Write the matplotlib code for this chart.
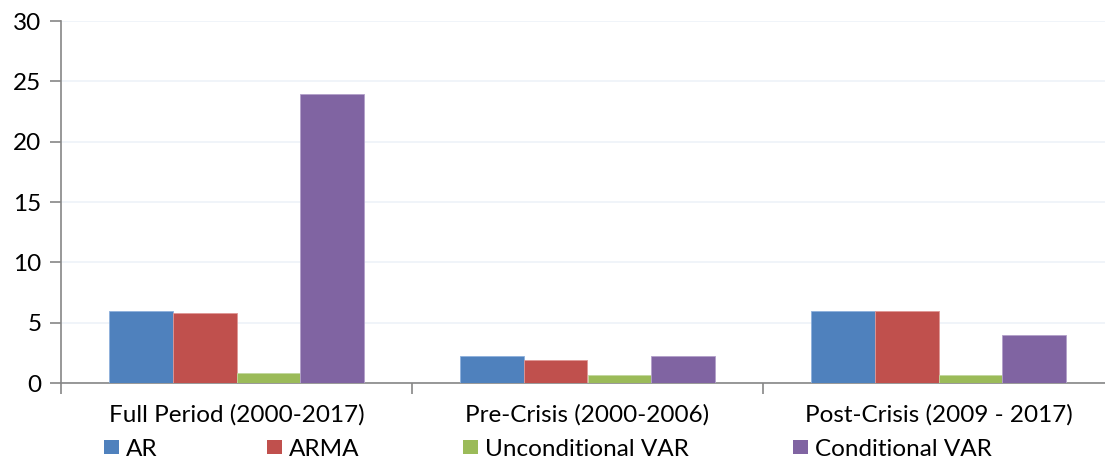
import matplotlib
matplotlib.use("Agg")
import matplotlib.pyplot as plt
from matplotlib.patches import Patch
import numpy as np

categories = ["Full Period (2000-2017)", "Pre-Crisis (2000-2006)", "Post-Crisis (2009 - 2017)"]
series_names = ["AR", "ARMA", "Unconditional VAR", "Conditional VAR"]
ar = [5.97, 2.24, 5.94]
arma = [5.80, 1.88, 5.94]
uncond_var = [0.83, 0.66, 0.64]
cond_var = [23.95, 2.20, 3.95]
colors = ["#4F81BD", "#C0504D", "#9BBB59", "#8064A2"]
edge_colors = ["#8DB0DC", "#E09795", "#C2D89E", "#B2A0CA"]
yticks = [0, 5, 10, 15, 20, 25, 30]

plt.rcParams['font.family'] = ['Lato', 'DejaVu Sans']

fig = plt.figure(figsize=(11.05, 4.61), dpi=100)
ax = fig.add_axes([61/1105, 1-383/461, 1053/1105, (383-21)/461])

x = np.arange(len(categories))
w = 0.182
data = [ar, arma, uncond_var, cond_var]
for i, (vals, c, ec) in enumerate(zip(data, colors, edge_colors)):
    ax.bar(x + (i - 1.5) * w, vals, width=w, color=c, edgecolor=ec, linewidth=0.6, zorder=3)

ax.set_xlim(-0.5, len(categories) - 0.5)
ax.set_ylim(0, 30)
ax.set_yticks(yticks)
ax.set_yticklabels([str(t) for t in yticks], fontsize=17.5)
ax.yaxis.grid(True, color="#EEF2F8", linewidth=1.2, zorder=0)
ax.set_axisbelow(True)

ax.set_xticks(x)
ax.set_xticklabels(categories, fontsize=17.5)
ax.tick_params(axis='x', which='major', length=0, pad=15)
ax.set_xticks(np.arange(-0.5, len(categories)), minor=True)
ax.tick_params(axis='x', which='minor', length=8, color="#868686", width=1.2)
ax.tick_params(axis='y', length=8, color="#868686", width=1.2, pad=6)

for s in ["top", "right"]:
    ax.spines[s].set_visible(False)
for s in ["left", "bottom"]:
    ax.spines[s].set_color("#868686")
    ax.spines[s].set_linewidth(1.2)

# legend entries placed across the bottom
legend_x = [104/1105, 267/1105, 463/1105, 793/1105]
for name, c, lx in zip(series_names, colors, legend_x):
    fig.legend(handles=[Patch(facecolor=c, edgecolor='none')], labels=[name],
               loc='center left', bbox_to_anchor=(lx, 1-449/461), frameon=False,
               fontsize=17.5, handlelength=0.62, handleheight=0.55, handletextpad=0.3,
               borderaxespad=0, borderpad=0)

fig.savefig("out.png", dpi=100)
